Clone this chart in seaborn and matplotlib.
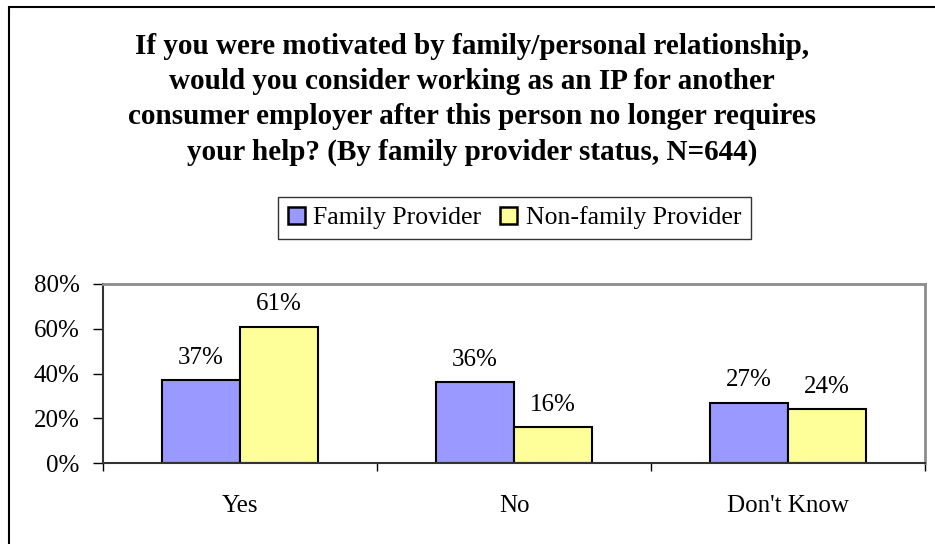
import matplotlib
matplotlib.use("Agg")
import matplotlib.pyplot as plt
from matplotlib.patches import Rectangle
import seaborn as sns
import pandas as pd

categories = ["Yes", "No", "Don't Know"]
family_provider = [37, 36, 27]
non_family_provider = [61, 16, 24]
series_names = ["Family Provider", "Non-family Provider"]
y_ticks = [0, 20, 40, 60, 80]
title = ("If you were motivated by family/personal relationship,\n"
         "would you consider working as an IP for another\n"
         "consumer employer after this person no longer requires\n"
         "your help? (By family provider status, N=644)")

df = pd.DataFrame({
    "category": categories * 2,
    "provider": [series_names[0]] * 3 + [series_names[1]] * 3,
    "value": family_provider + non_family_provider,
})

sns.set_theme(style="white")
plt.rcParams["font.family"] = ["Liberation Serif", "DejaVu Serif"]
plt.rcParams["text.color"] = "black"
plt.rcParams["xtick.color"] = "black"
plt.rcParams["ytick.color"] = "black"
plt.rcParams["axes.labelcolor"] = "black"

fig = plt.figure(figsize=(9.35, 5.44), dpi=100)
ax = fig.add_axes([103 / 935, 1 - 463 / 544, 822 / 935, 179 / 544])

palette = {series_names[0]: "#9999FF", series_names[1]: "#FFFF99"}
sns.barplot(data=df, x="category", y="value", hue="provider", order=categories,
            hue_order=series_names, palette=palette, width=0.57, gap=0,
            edgecolor="black", linewidth=1.5, saturation=1, ax=ax, legend=False)

for cont in ax.containers:
    ax.bar_label(cont, labels=[f"{v:.0f}%" for v in cont.datavalues],
                 padding=8, fontsize=18, color="black")

ax.set_xlim(-0.5, 2.5)
ax.set_ylim(0, 80)
ax.set_yticks(y_ticks)
ax.set_yticklabels([f"{t}%" for t in y_ticks], fontsize=18)
ax.set_xlabel("")
ax.set_ylabel("")
ax.set_xticks(range(len(categories)))
ax.set_xticklabels(categories, fontsize=18)
ax.set_xticks([-0.5, 0.5, 1.5, 2.5], minor=True)
ax.tick_params(axis="x", which="major", length=0, pad=23)
ax.tick_params(axis="x", which="minor", length=6, width=1, color="black",
               direction="out", bottom=True)
ax.tick_params(axis="y", length=7, width=1, color="black", direction="out",
               left=True, pad=10)

for side in ("left", "bottom"):
    ax.spines[side].set_color("#333333")
    ax.spines[side].set_linewidth(1.5)
for side in ("top", "right"):
    ax.spines[side].set_color("#8c8c8c")
    ax.spines[side].set_linewidth(2)

handles = [Rectangle((0, 0), 1, 1, facecolor=palette[n], edgecolor="black",
                     linewidth=1.8) for n in series_names]
fig.legend(handles, series_names, loc="center", bbox_to_anchor=(514.5 / 935, 1 - 218 / 544),
           ncol=2, fontsize=18.5, frameon=True, fancybox=False, edgecolor="black",
           handlelength=0.66, handleheight=0.66, handletextpad=0.33, columnspacing=0.75,
           borderpad=0.38, borderaxespad=0)

fig.text(472 / 935, 1 - 33 / 544, title, ha="center", va="top", fontsize=21,
         fontweight="bold", linespacing=1.39)

fig.patches.append(Rectangle((9 / 935, -0.1), 1.2, 1 - 7 / 544 + 0.1,
                             transform=fig.transFigure, fill=False,
                             edgecolor="black", linewidth=1.5))

fig.savefig("out.png", dpi=100)
